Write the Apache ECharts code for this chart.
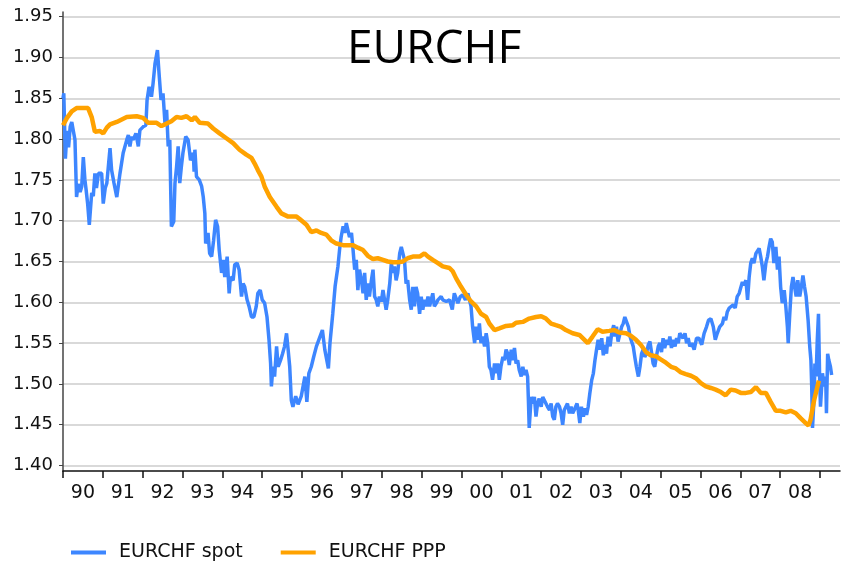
<!DOCTYPE html>
<html>
<head>
<meta charset="utf-8">
<script src="https://cdn.jsdelivr.net/npm/echarts@6/dist/echarts.min.js"></script>
<style>
  html, body { margin: 0; padding: 0; background: #fff; }
  #chart { width: 841px; height: 561px; }
</style>
</head>
<body>
<div id="chart"></div>
<script>
  // EURCHF spot, [decimal year, rate]
  var spot = [
    [1990.00,1.850],[1990.02,1.856],[1990.06,1.776],[1990.10,1.810],[1990.14,1.790],[1990.18,1.815],
    [1990.22,1.821],[1990.26,1.810],[1990.30,1.799],[1990.34,1.729],[1990.38,1.745],[1990.43,1.735],
    [1990.47,1.742],[1990.51,1.778],[1990.55,1.750],[1990.58,1.738],[1990.62,1.720],[1990.66,1.695],
    [1990.72,1.734],[1990.76,1.730],[1990.80,1.758],[1990.84,1.740],[1990.89,1.758],[1990.93,1.760],
    [1990.97,1.758],[1991.01,1.721],[1991.06,1.740],[1991.10,1.746],[1991.18,1.789],[1991.22,1.762],
    [1991.28,1.746],[1991.35,1.729],[1991.43,1.758],[1991.51,1.783],[1991.60,1.799],[1991.64,1.805],
    [1991.68,1.791],[1991.72,1.803],[1991.76,1.799],[1991.83,1.807],[1991.89,1.791],[1991.93,1.811],
    [1992.01,1.815],[1992.08,1.817],[1992.11,1.848],[1992.16,1.864],[1992.22,1.852],[1992.26,1.868],
    [1992.31,1.893],[1992.37,1.909],[1992.41,1.881],[1992.46,1.848],[1992.51,1.856],[1992.56,1.819],
    [1992.60,1.836],[1992.64,1.791],[1992.68,1.799],[1992.72,1.693],[1992.78,1.699],[1992.81,1.746],
    [1992.85,1.766],[1992.89,1.791],[1992.93,1.746],[1992.97,1.766],[1993.01,1.783],[1993.08,1.803],
    [1993.14,1.799],[1993.20,1.774],[1993.27,1.783],[1993.29,1.760],[1993.31,1.787],[1993.35,1.754],
    [1993.42,1.750],[1993.48,1.742],[1993.52,1.729],[1993.56,1.709],[1993.58,1.672],[1993.64,1.685],
    [1993.68,1.660],[1993.73,1.656],[1993.78,1.676],[1993.83,1.701],[1993.88,1.693],[1993.92,1.664],
    [1993.98,1.636],[1994.02,1.652],[1994.06,1.631],[1994.12,1.656],[1994.17,1.611],[1994.20,1.631],
    [1994.27,1.627],[1994.31,1.646],[1994.37,1.648],[1994.42,1.640],[1994.48,1.607],[1994.52,1.623],
    [1994.56,1.619],[1994.62,1.603],[1994.67,1.595],[1994.73,1.582],[1994.79,1.582],[1994.85,1.595],
    [1994.89,1.611],[1994.95,1.615],[1995.00,1.603],[1995.06,1.599],[1995.12,1.582],[1995.17,1.554],
    [1995.21,1.525],[1995.23,1.497],[1995.27,1.521],[1995.31,1.509],[1995.36,1.546],[1995.40,1.521],
    [1995.46,1.529],[1995.51,1.537],[1995.56,1.546],[1995.61,1.562],[1995.65,1.542],[1995.69,1.521],
    [1995.73,1.480],[1995.77,1.472],[1995.84,1.485],[1995.90,1.475],[1995.98,1.485],[1996.07,1.509],
    [1996.12,1.478],[1996.17,1.513],[1996.23,1.521],[1996.29,1.533],[1996.36,1.546],[1996.42,1.554],
    [1996.51,1.566],[1996.57,1.542],[1996.66,1.519],[1996.70,1.550],[1996.77,1.586],[1996.83,1.620],
    [1996.90,1.644],[1996.94,1.664],[1996.98,1.680],[1997.03,1.693],[1997.07,1.685],[1997.11,1.697],
    [1997.15,1.695],[1997.19,1.680],[1997.24,1.685],[1997.28,1.664],[1997.32,1.640],[1997.36,1.652],
    [1997.40,1.615],[1997.44,1.640],[1997.49,1.627],[1997.53,1.611],[1997.57,1.636],[1997.61,1.603],
    [1997.65,1.623],[1997.69,1.607],[1997.74,1.627],[1997.78,1.640],[1997.82,1.607],[1997.86,1.603],
    [1997.90,1.595],[1997.94,1.607],[1997.99,1.601],[1998.03,1.615],[1998.07,1.603],[1998.11,1.591],
    [1998.15,1.603],[1998.20,1.623],[1998.24,1.648],[1998.28,1.636],[1998.32,1.644],[1998.36,1.627],
    [1998.40,1.636],[1998.45,1.660],[1998.49,1.668],[1998.53,1.666],[1998.57,1.652],[1998.61,1.623],
    [1998.65,1.627],[1998.70,1.603],[1998.74,1.591],[1998.78,1.619],[1998.82,1.595],[1998.86,1.619],
    [1998.90,1.611],[1998.95,1.586],[1998.99,1.607],[1999.03,1.591],[1999.07,1.603],[1999.11,1.595],
    [1999.16,1.607],[1999.20,1.595],[1999.24,1.603],[1999.28,1.611],[1999.32,1.595],[1999.37,1.599],
    [1999.41,1.603],[1999.49,1.607],[1999.53,1.603],[1999.62,1.601],[1999.70,1.603],[1999.77,1.591],
    [1999.82,1.611],[1999.91,1.599],[1999.97,1.607],[2000.03,1.609],[2000.10,1.603],[2000.16,1.611],
    [2000.20,1.613],[2000.24,1.595],[2000.28,1.570],[2000.33,1.550],[2000.37,1.570],[2000.41,1.554],
    [2000.45,1.574],[2000.49,1.550],[2000.53,1.558],[2000.58,1.546],[2000.62,1.562],[2000.66,1.550],
    [2000.70,1.521],[2000.74,1.517],[2000.78,1.505],[2000.83,1.525],[2000.87,1.513],[2000.91,1.525],
    [2000.95,1.505],[2000.99,1.521],[2001.04,1.533],[2001.08,1.529],[2001.12,1.542],[2001.16,1.537],
    [2001.20,1.523],[2001.25,1.542],[2001.29,1.529],[2001.33,1.544],[2001.37,1.525],[2001.41,1.529],
    [2001.45,1.517],[2001.50,1.509],[2001.54,1.521],[2001.58,1.511],[2001.62,1.517],[2001.66,1.509],
    [2001.68,1.480],[2001.70,1.446],[2001.75,1.484],[2001.79,1.476],[2001.83,1.484],[2001.87,1.460],
    [2001.91,1.476],[2001.95,1.482],[2002.00,1.472],[2002.04,1.484],[2002.08,1.480],[2002.12,1.482],
    [2002.16,1.472],[2002.21,1.468],[2002.25,1.476],[2002.29,1.460],[2002.33,1.456],[2002.37,1.472],
    [2002.41,1.476],[2002.46,1.472],[2002.50,1.464],[2002.54,1.450],[2002.58,1.468],[2002.62,1.472],
    [2002.66,1.476],[2002.71,1.464],[2002.75,1.472],[2002.79,1.464],[2002.83,1.468],[2002.90,1.476],
    [2002.93,1.468],[2002.97,1.452],[2003.01,1.472],[2003.06,1.460],[2003.10,1.470],[2003.14,1.462],
    [2003.18,1.472],[2003.22,1.488],[2003.27,1.505],[2003.31,1.513],[2003.35,1.529],[2003.39,1.542],
    [2003.43,1.554],[2003.48,1.542],[2003.52,1.556],[2003.56,1.535],[2003.60,1.548],[2003.64,1.537],
    [2003.68,1.558],[2003.73,1.546],[2003.77,1.562],[2003.82,1.572],[2003.85,1.558],[2003.89,1.570],
    [2003.93,1.552],[2003.98,1.562],[2004.02,1.570],[2004.06,1.574],[2004.10,1.582],[2004.14,1.584],
    [2004.19,1.570],[2004.23,1.558],[2004.27,1.552],[2004.31,1.546],[2004.35,1.533],[2004.39,1.521],
    [2004.44,1.509],[2004.48,1.521],[2004.52,1.537],[2004.56,1.542],[2004.60,1.533],[2004.64,1.537],
    [2004.69,1.548],[2004.73,1.552],[2004.77,1.554],[2004.81,1.525],[2004.85,1.521],[2004.89,1.533],
    [2004.94,1.546],[2004.98,1.550],[2005.02,1.539],[2005.06,1.556],[2005.10,1.544],[2005.15,1.554],
    [2005.19,1.548],[2005.23,1.558],[2005.27,1.544],[2005.31,1.554],[2005.36,1.546],[2005.40,1.556],
    [2005.44,1.550],[2005.48,1.562],[2005.52,1.564],[2005.56,1.556],[2005.61,1.562],[2005.65,1.550],
    [2005.69,1.556],[2005.73,1.546],[2005.78,1.550],[2005.84,1.542],[2005.90,1.556],[2005.96,1.556],
    [2006.03,1.548],[2006.09,1.562],[2006.15,1.570],[2006.20,1.578],[2006.26,1.580],[2006.32,1.570],
    [2006.37,1.554],[2006.42,1.562],[2006.48,1.570],[2006.55,1.574],[2006.59,1.582],[2006.63,1.578],
    [2006.67,1.588],[2006.72,1.593],[2006.76,1.591],[2006.82,1.597],[2006.87,1.593],[2006.92,1.607],
    [2006.97,1.611],[2007.01,1.613],[2007.05,1.625],[2007.09,1.621],[2007.14,1.627],[2007.18,1.603],
    [2007.22,1.631],[2007.26,1.648],[2007.30,1.654],[2007.34,1.648],[2007.39,1.660],[2007.43,1.662],
    [2007.47,1.666],[2007.51,1.656],[2007.55,1.644],[2007.59,1.627],[2007.64,1.648],[2007.68,1.656],
    [2007.72,1.668],[2007.76,1.678],[2007.80,1.674],[2007.84,1.648],[2007.89,1.668],[2007.93,1.640],
    [2007.97,1.656],[2008.01,1.619],[2008.05,1.599],[2008.10,1.615],[2008.14,1.595],[2008.18,1.570],
    [2008.20,1.550],[2008.24,1.586],[2008.28,1.619],[2008.32,1.631],[2008.36,1.619],[2008.40,1.607],
    [2008.44,1.627],[2008.49,1.607],[2008.53,1.619],[2008.57,1.633],[2008.61,1.619],[2008.65,1.607],
    [2008.70,1.578],[2008.74,1.546],[2008.77,1.529],[2008.79,1.497],[2008.81,1.446],[2008.85,1.484],
    [2008.87,1.525],[2008.90,1.509],[2008.93,1.554],[2008.96,1.586],[2008.99,1.505],[2009.01,1.472],
    [2009.06,1.513],[2009.10,1.497],[2009.14,1.509],[2009.16,1.464],[2009.19,1.537],[2009.22,1.529],
    [2009.26,1.521],[2009.29,1.511]
  ];

  // EURCHF purchasing power parity, [decimal year, rate]
  var ppp = [
    [1990.00,1.817],[1990.10,1.826],[1990.22,1.834],[1990.34,1.838],[1990.50,1.838],[1990.63,1.838],
    [1990.72,1.827],[1990.80,1.809],[1990.93,1.810],[1991.01,1.807],[1991.10,1.814],[1991.18,1.818],
    [1991.35,1.821],[1991.60,1.827],[1991.85,1.828],[1992.01,1.826],[1992.14,1.820],[1992.35,1.820],
    [1992.47,1.816],[1992.60,1.819],[1992.72,1.822],[1992.85,1.827],[1992.97,1.826],[1993.10,1.828],
    [1993.23,1.823],[1993.31,1.827],[1993.43,1.820],[1993.64,1.819],[1993.77,1.813],[1993.93,1.807],
    [1994.10,1.801],[1994.27,1.795],[1994.43,1.787],[1994.60,1.781],[1994.73,1.777],[1994.81,1.770],
    [1994.89,1.762],[1994.98,1.754],[1995.06,1.742],[1995.19,1.729],[1995.36,1.717],[1995.48,1.709],
    [1995.65,1.705],[1995.86,1.705],[1995.94,1.702],[1996.11,1.695],[1996.23,1.686],[1996.36,1.688],
    [1996.48,1.685],[1996.61,1.683],[1996.73,1.676],[1996.86,1.672],[1997.03,1.670],[1997.15,1.670],
    [1997.28,1.670],[1997.40,1.667],[1997.53,1.664],[1997.65,1.657],[1997.78,1.653],[1997.90,1.654],
    [1998.03,1.652],[1998.15,1.650],[1998.28,1.649],[1998.40,1.649],[1998.53,1.650],[1998.65,1.654],
    [1998.78,1.656],[1998.95,1.656],[1999.07,1.660],[1999.16,1.656],[1999.28,1.652],[1999.41,1.648],
    [1999.53,1.644],[1999.70,1.642],[1999.78,1.638],[1999.87,1.629],[1999.99,1.619],[2000.12,1.609],
    [2000.24,1.601],[2000.37,1.595],[2000.49,1.586],[2000.62,1.582],[2000.70,1.574],[2000.83,1.566],
    [2000.95,1.568],[2001.12,1.571],[2001.29,1.572],[2001.37,1.575],[2001.54,1.576],[2001.70,1.580],
    [2001.87,1.582],[2002.00,1.583],[2002.12,1.580],[2002.25,1.574],[2002.37,1.572],[2002.50,1.570],
    [2002.62,1.566],[2002.79,1.562],[2002.96,1.560],[2003.17,1.550],[2003.29,1.558],[2003.42,1.567],
    [2003.54,1.564],[2003.71,1.565],[2003.83,1.566],[2003.96,1.563],[2004.13,1.562],[2004.25,1.559],
    [2004.38,1.554],[2004.50,1.548],[2004.63,1.539],[2004.75,1.535],[2004.88,1.534],[2005.00,1.530],
    [2005.13,1.526],[2005.26,1.521],[2005.38,1.519],[2005.51,1.514],[2005.63,1.512],[2005.76,1.510],
    [2005.88,1.507],[2006.01,1.501],[2006.13,1.497],[2006.26,1.495],[2006.38,1.493],[2006.51,1.490],
    [2006.63,1.486],[2006.76,1.493],[2006.88,1.492],[2007.01,1.489],[2007.14,1.489],[2007.26,1.490],
    [2007.39,1.496],[2007.51,1.489],[2007.64,1.489],[2007.76,1.478],[2007.89,1.467],[2008.01,1.467],
    [2008.14,1.465],[2008.26,1.467],[2008.39,1.464],[2008.51,1.458],[2008.64,1.452],[2008.71,1.449],
    [2008.76,1.456],[2008.85,1.480],[2008.97,1.504]
  ];

  var yTicks = [1.40, 1.45, 1.50, 1.55, 1.60, 1.65, 1.70, 1.75, 1.80, 1.85, 1.90, 1.95];
  var yearTicks = [1990, 1991, 1992, 1993, 1994, 1995, 1996, 1997, 1998, 1999, 2000,
                   2001, 2002, 2003, 2004, 2005, 2006, 2007, 2008, 2009];
  var yearLabels = ['90', '91', '92', '93', '94', '95', '96', '97', '98', '99', '00',
                    '01', '02', '03', '04', '05', '06', '07', '08'];
  // labels sit in the middle of each year
  var labelPos = yearLabels.map(function (s, i) { return 1990.5 + i; });

  var chart = echarts.init(document.getElementById('chart'));

  var option = {
    animation: false,
    backgroundColor: '#ffffff',
    textStyle: { fontFamily: 'DejaVu Sans' },
    title: {
      text: 'EURCHF',
      left: 347,
      top: 27,
      padding: 0,
      textStyle: { fontFamily: 'Open Sans', fontSize: 46, fontWeight: 'normal', color: '#000' }
    },
    legend: {
      left: 66,
      top: 538,
      icon: 'rect',
      itemWidth: 35,
      itemHeight: 4,
      itemGap: 38,
      textStyle: { fontSize: 19, color: '#111', padding: [0, 0, 0, 8] },
      data: ['EURCHF spot', 'EURCHF PPP']
    },
    grid: { left: 63, right: 1, top: 12, bottom: 90, containLabel: false },
    xAxis: {
      type: 'value',
      min: 1990,
      max: 2009.5,
      axisLine: { show: true, lineStyle: { color: '#111', width: 1.5 } },
      axisTick: { show: true, length: 7, customValues: yearTicks, lineStyle: { color: '#111', width: 1.5 } },
      axisLabel: {
        customValues: labelPos,
        margin: 13,
        fontSize: 19,
        color: '#111',
        formatter: function (v) { return yearLabels[Math.round(v - 1990.5)]; }
      },
      splitLine: { show: false }
    },
    yAxis: {
      type: 'value',
      min: 1.39326,
      max: 1.95576,
      axisLine: { show: true, lineStyle: { color: '#444', width: 1.5 } },
      axisTick: { show: true, length: 4, customValues: yTicks, lineStyle: { color: '#444' } },
      axisLabel: {
        customValues: yTicks,
        margin: 10,
        fontSize: 18,
        color: '#111',
        formatter: function (v) { return v.toFixed(2); }
      },
      splitLine: { show: true, lineStyle: { color: '#cccccc', width: 1.5 } }
    },
    series: [
      {
        name: 'EURCHF spot',
        type: 'line',
        data: spot,
        showSymbol: false,
        symbol: 'none',
        color: '#3d86ff',
        lineStyle: { color: '#3d86ff', width: 3.5 }
      },
      {
        name: 'EURCHF PPP',
        type: 'line',
        data: ppp,
        showSymbol: false,
        symbol: 'none',
        color: '#ffa200',
        lineStyle: { color: '#ffa200', width: 4.5 }
      }
    ]
  };

  chart.setOption(option);
</script>
</body>
</html>
